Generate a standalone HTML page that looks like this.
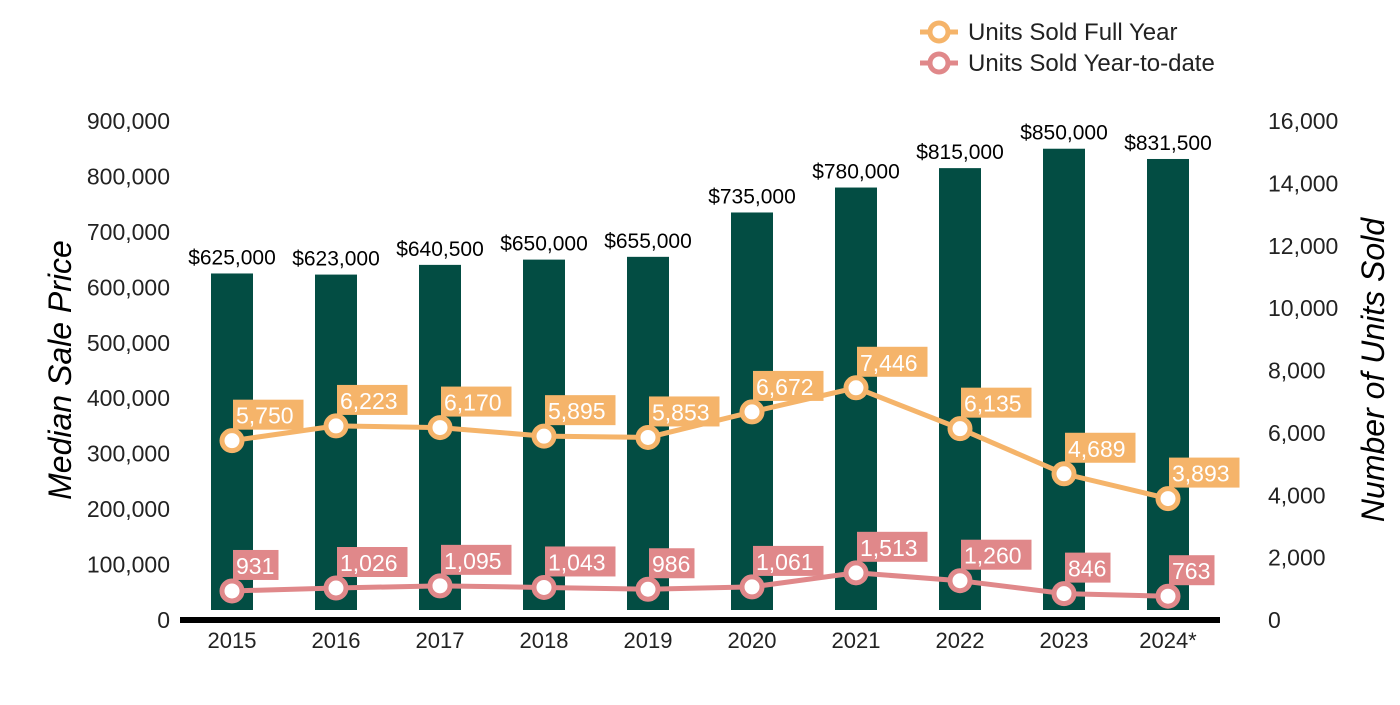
<!DOCTYPE html>
<html><head><meta charset="utf-8"><style>
body{margin:0;background:#fff;width:1400px;height:700px;overflow:hidden}
svg{font-family:"Liberation Sans",Arial,sans-serif}
</style></head><body>
<svg id="chart" width="1400" height="700" xmlns="http://www.w3.org/2000/svg">
<g id="axes"></g><g id="bars"></g><g id="lines"></g>
<g>
<line x1="920" y1="32" x2="958" y2="32" stroke="#F5B46A" stroke-width="5"/>
<circle cx="939" cy="32" r="9" fill="#fff" stroke="#F5B46A" stroke-width="5"/>
<text x="968" y="40" font-size="24" fill="#222">Units Sold Full Year</text>
<line x1="920" y1="63" x2="958" y2="63" stroke="#E0888A" stroke-width="5"/>
<circle cx="939" cy="63" r="9" fill="#fff" stroke="#E0888A" stroke-width="5"/>
<text x="968" y="71" font-size="24" fill="#222">Units Sold Year-to-date</text>
</g>
<text transform="translate(71,370) rotate(-90)" text-anchor="middle" font-size="32" font-style="italic" fill="#000">Median Sale Price</text>
<text transform="translate(1384,370) rotate(-90)" text-anchor="middle" font-size="32" font-style="italic" fill="#000">Number of Units Sold</text>
</svg>
<script>
const categories=["2015","2016","2017","2018","2019","2020","2021","2022","2023","2024*"];
const prices=[625000,623000,640500,650000,655000,735000,780000,815000,850000,831500];
const fullYear=[5750,6223,6170,5895,5853,6672,7446,6135,4689,3893];
const ytd=[931,1026,1095,1043,986,1061,1513,1260,846,763];
const leftTicks=[0,100000,200000,300000,400000,500000,600000,700000,800000,900000];
const rightTicks=[0,2000,4000,6000,8000,10000,12000,14000,16000];
const NS="http://www.w3.org/2000/svg";
const y0=620,yTop=121;
const yL=v=>y0-v/900000*(y0-yTop);
const yR=v=>y0-v/16000*(y0-yTop);
const xC=i=>232+i*104;
function mk(tag,attrs,parent,txt){const e=document.createElementNS(NS,tag);for(const k in attrs)e.setAttribute(k,attrs[k]);if(txt!=null)e.textContent=txt;document.getElementById(parent).appendChild(e);return e;}
const fmt=v=>v.toLocaleString("en-US");
leftTicks.forEach(v=>{const t=mk("text",{x:170,y:yL(v)+8,"text-anchor":"end","font-size":23,fill:"#222"},"axes",fmt(v));

});
rightTicks.forEach(v=>{const t=mk("text",{x:1268,y:yR(v)+8,"font-size":23,fill:"#222"},"axes",fmt(v));

});
categories.forEach((c,i)=>{const t=mk("text",{x:xC(i),y:648,"text-anchor":"middle","font-size":22,fill:"#222"},"axes",c);

});
prices.forEach((v,i)=>{const r=mk("rect",{x:xC(i)-21,y:yL(v),width:42,height:610-yL(v),fill:"#034D43"},"bars");


const t=mk("text",{x:xC(i),y:yL(v)-9,"text-anchor":"middle","font-size":21,fill:"#000"},"bars","$"+fmt(v));

});
const ax=mk("line",{x1:180,y1:620,x2:1220,y2:620,stroke:"#000","stroke-width":6},"axes");


function series(data,color,name){
const p=mk("polyline",{points:data.map((v,i)=>xC(i)+","+yR(v)).join(" "),fill:"none",stroke:color,"stroke-width":5},"lines");


data.forEach((v,i)=>{const c=mk("circle",{cx:xC(i),cy:yR(v),r:10,fill:"#fff",stroke:color,"stroke-width":5},"lines");


const s=fmt(v);const w=s.length*12.5+8;
const b=mk("rect",{x:xC(i)+1,y:yR(v)-41,width:w,height:30,fill:color},"lines");


const t=mk("text",{x:xC(i)+4,y:yR(v)-17,"font-size":23,fill:"#fff"},"lines",s);

});}
series(fullYear,"#F5B46A","full-year");
series(ytd,"#E0888A","ytd");
</script>
</body></html>
